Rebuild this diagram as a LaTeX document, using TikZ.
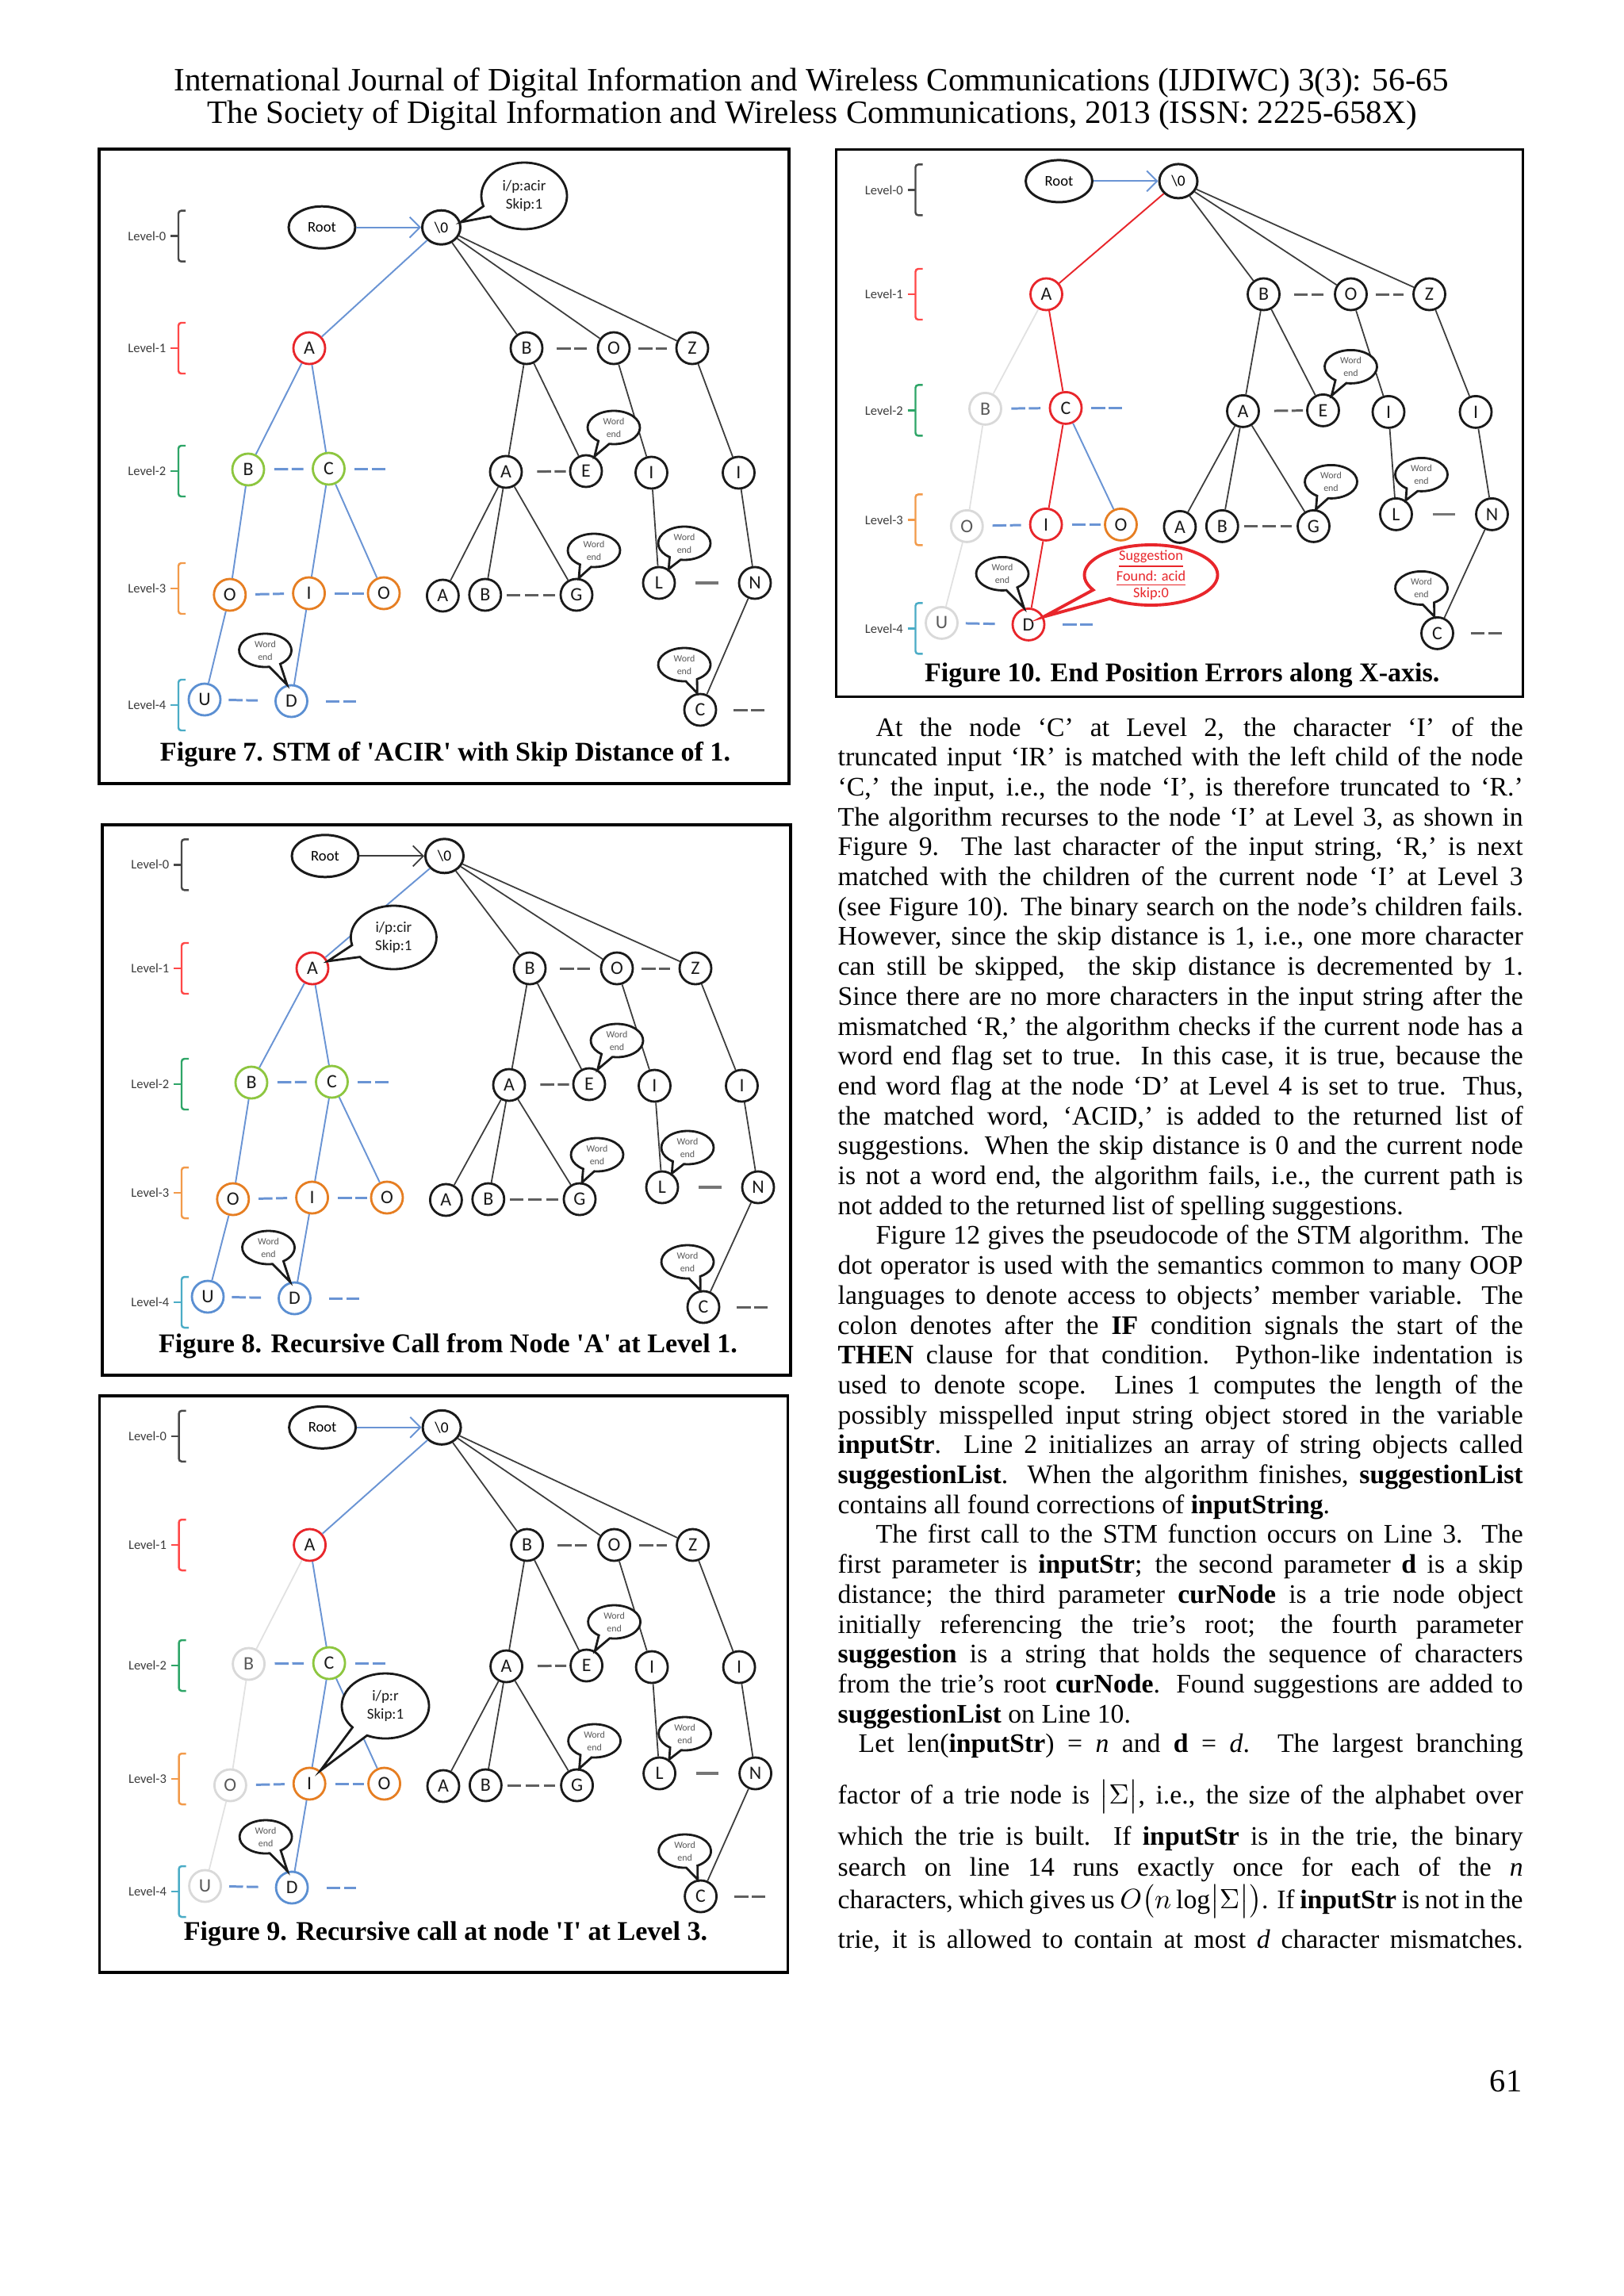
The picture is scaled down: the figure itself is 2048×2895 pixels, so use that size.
\documentclass[tikz,border=0pt]{standalone}
\usepackage{fontspec}
\setmainfont{Liberation Serif}
\newfontfamily\diafont{Carlito}
\usetikzlibrary{shapes.geometric,arrows.meta,calc}

\definecolor{cRed}{HTML}{E8262B}
\definecolor{cGreen}{HTML}{8DC63F}
\definecolor{cOrange}{HTML}{E67E22}
\definecolor{cBlue}{HTML}{5B8FD2}
\definecolor{cEdge}{HTML}{6A94D4}
\definecolor{cGhost}{HTML}{D9D9D9}
\definecolor{cGhostT}{HTML}{595959}
\definecolor{cLvA}{HTML}{FF4848}
\definecolor{cLvB}{HTML}{2EA567}
\definecolor{cLvC}{HTML}{F29A4A}
\definecolor{cLvD}{HTML}{4BACC6}
\definecolor{cDark}{HTML}{1A1A1A}

\tikzset{
 tn/.style={circle,draw=cDark,line width=0.8pt,minimum size=4mm,inner sep=0pt,fill=white,font=\diafont\fontsize{6.8}{7}\selectfont,text=cDark},
 rootn/.style={ellipse,draw=cDark,line width=0.85pt,minimum width=8.4mm,minimum height=5.3mm,inner sep=0pt,fill=white,font=\diafont\fontsize{5.3}{6}\selectfont},
 zn/.style={ellipse,draw=cDark,line width=0.85pt,minimum width=4.8mm,minimum height=4.3mm,inner sep=0pt,fill=white,font=\diafont\fontsize{5.5}{6}\selectfont},
 nred/.style={draw=cRed}, ngreen/.style={draw=cGreen}, norange/.style={draw=cOrange},
 nblue/.style={draw=cBlue}, nghost/.style={draw=cGhost,text=cGhostT},
 ed/.style={draw=cDark!85,line width=0.5pt},
 eb/.style={draw=cEdge,line width=0.55pt},
 er/.style={draw=cRed,line width=0.55pt},
 eg/.style={draw=cGhost!80,line width=0.5pt},
 sA1/.style={nred}, sB2/.style={ngreen}, sC2/.style={ngreen}, sO3/.style={norange},
 sI3/.style={norange}, sP3/.style={norange}, sU4/.style={nblue}, sD4/.style={nblue},
 eRZ/.style={eb}, e0A/.style={eb}, eAB/.style={eb}, eAC/.style={eb}, eBO/.style={eb},
 eCI/.style={eb}, eCP/.style={eb}, eOU/.style={eb}, eID/.style={eb},
 dk/.style={draw=cDark!70,line width=0.85pt,dash pattern=on 1.75mm off 0.45mm},
 db/.style={draw=cEdge,line width=0.85pt,dash pattern=on 1.75mm off 0.45mm},
 dkthree/.style={draw=cDark!70,line width=0.85pt,dash pattern=on 1.7mm off 0.6mm,shorten <=0.6mm,shorten >=0.6mm},
 solidgray/.style={draw=cDark!60,line width=0.9pt,shorten <=2.5mm,shorten >=2.5mm},
 co/.style={draw=cDark,line width=0.8pt,fill=white},
 cored/.style={draw=cRed,line width=1.1pt,fill=white},
 wetxt/.style={align=center,inner sep=0pt,font=\diafont\fontsize{3.4}{4.5}\selectfont,text=cGhostT},
 cotxt/.style={align=center,inner sep=0pt,font=\diafont\fontsize{5.4}{6.6}\selectfont,text=cDark},
 lvltxt/.style={anchor=east,inner sep=0pt,font=\diafont\fontsize{4.7}{5}\selectfont,text=cDark!85},
 brc/.style={line width=0.7pt,rounded corners=1pt},
 figframe/.style={draw=black,line width=0.9pt},
 capt/.style={inner sep=0pt,font=\bfseries\fontsize{9.7}{11}\selectfont},
 txt/.style={anchor=base west,inner sep=0pt,font=\fontsize{9.6}{11}\selectfont},
 hdr/.style={anchor=base,inner sep=0pt,font=\fontsize{11.7}{13}\selectfont},
}

% callout: style, centre, rx, ry, half gap, tip
\newcommand\callout[6]{%
 \path[#1] let \p1=(#6), \p2=(#2), \n1={atan2(-(\y1-\y2)/(#4),(\x1-\x2)/(#3))} in
 (#2) ++(\n1+#5:#3 and #4) arc[start angle=\n1+#5, end angle=\n1-#5+360, x radius=#3, y radius=#4] -- (#6) -- cycle;}

% word end callout: name, node, dx, dy, tip angle
\newcommand\wend[5]{%
 \coordinate (#1) at ($(#2)+(#3,#4)$);
 \callout{co}{#1}{33}{21}{13}{#2.#5}
 \node[wetxt] (#1t) at (#1) {Word\\end};}

\newcommand\wends[1]{%
 \wend{#1wE}{#1E2}{35}{-55}{60}
 \wend{#1wG}{#1G3}{22}{-56}{82}
 \wend{#1wL}{#1L3}{32}{-50}{55}
 \wend{#1wD}{#1D4}{-33}{-64}{105}
 \wend{#1wC}{#1C4}{-20}{-57}{100}}

% level label: name, y, colour, text
\newcommand\lvl[4]{%
 \node[lvltxt] (#1) at (85,#2) {#4};
 \draw[brc,draw=#3] (109,#2-32) -- (100,#2-32) -- (100,#2+32) -- (109,#2+32);
 \draw[line width=0.7pt,draw=#3] (90,#2) -- (100,#2);}

\newcommand\levels[6]{%
 \lvl{#1lv0}{#2+11}{cDark!80}{Level-0}
 \lvl{#1lv1}{#3}{cLvA}{Level-1}
 \lvl{#1lv2}{#4}{cLvB}{Level-2}
 \lvl{#1lv3}{#5-7}{cLvC}{Level-3}
 \lvl{#1lv4}{#6+6}{cLvD}{Level-4}}

% the trie: prefix, y of levels 0..4
\newcommand\trie[6]{%
 \node[rootn] (#1R) at (281,#2) {Root};
 \node[zn] (#1z) at (431.5,#2) {\textbackslash0};
 \node[tn,sA1] (#1A1) at (265,#3) {A};
 \node[tn] (#1B1) at (539,#3) {B};
 \node[tn] (#1O1) at (649,#3) {O};
 \node[tn] (#1Z1) at (748,#3) {Z};
 \node[tn,sB2] (#1B2) at (188,#4-2) {B};
 \node[tn,sC2] (#1C2) at (289.5,#4-3) {C};
 \node[tn] (#1A2) at (513,#4+1) {A};
 \node[tn] (#1E2) at (614,#4) {E};
 \node[tn] (#1Ia) at (696.5,#4+2) {I};
 \node[tn] (#1Ib) at (806.5,#4+2) {I};
 \node[tn,sO3] (#1O3) at (164.8,#5+1) {O};
 \node[tn,sI3] (#1I3) at (264.6,#5-1) {I};
 \node[tn,sP3] (#1P3) at (359,#5-1) {O};
 \node[tn] (#1A3) at (433.4,#5+2) {A};
 \node[tn] (#1B3) at (486.8,#5+1) {B};
 \node[tn] (#1G3) at (602,#5+1) {G};
 \node[tn] (#1L3) at (706,#5-14) {L};
 \node[tn] (#1N3) at (827,#5-14) {N};
 \node[tn,sU4] (#1U4) at (133,#6-1) {U};
 \node[tn,sD4] (#1D4) at (242.5,#6+1) {D};
 \node[tn] (#1C4) at (758,#6+12) {C};
 \coordinate (#1Ct) at ($(#1C2)+(71,0)$);
 \coordinate (#1Dt) at ($(#1D4)+(81,0)$);
 \coordinate (#1Ft) at ($(#1C4)+(81,0)$);
 \draw[eRZ,-{Straight Barb[length=1.3mm,width=2.6mm]}] (#1R) -- (#1z);
 \draw[e0A] (#1z) -- (#1A1);
 \draw[ed] (#1z) -- (#1B1);
 \draw[ed] (#1z) -- (#1O1);
 \draw[ed] (#1z) -- (#1Z1);
 \draw[eAB] (#1A1) -- (#1B2);
 \draw[eAC] (#1A1) -- (#1C2);
 \draw[eBO] (#1B2) -- (#1O3);
 \draw[eCI] (#1C2) -- (#1I3);
 \draw[eCP] (#1C2) -- (#1P3);
 \draw[eOU] (#1O3) -- (#1U4);
 \draw[eID] (#1I3) -- (#1D4);
 \draw[ed] (#1B1) -- (#1A2);
 \draw[ed] (#1B1) -- (#1E2);
 \draw[ed] (#1O1) -- (#1Ia);
 \draw[ed] (#1Z1) -- (#1Ib);
 \draw[ed] (#1A2) -- (#1A3);
 \draw[ed] (#1A2) -- (#1B3);
 \draw[ed] (#1A2) -- (#1G3);
 \draw[ed] (#1Ia) -- (#1L3);
 \draw[ed] (#1Ib) -- (#1N3);
 \draw[ed] (#1N3) -- (#1C4);
 \draw[dk,shorten <=1.7mm,shorten >=1.3mm] (#1B1) -- (#1O1);
 \draw[dk,shorten <=1.0mm,shorten >=1.1mm] (#1O1) -- (#1Z1);
 \draw[db,shorten <=1.15mm,shorten >=1.05mm] (#1B2) -- (#1C2);
 \draw[db,shorten <=1.1mm] (#1C2) -- (#1Ct);
 \draw[dk,shorten <=1.8mm,shorten >=0.4mm] (#1A2) -- (#1E2);
 \draw[db,shorten <=1.1mm,shorten >=1.0mm] (#1O3) -- (#1I3);
 \draw[db,shorten <=1.1mm,shorten >=0.4mm] (#1I3) -- (#1P3);
 \draw[dkthree] (#1B3) -- (#1G3);
 \draw[solidgray] (#1L3) -- (#1N3);
 \draw[db,shorten <=0.9mm,shorten >=2.1mm] (#1U4) -- (#1D4);
 \draw[db,shorten <=2.2mm] (#1D4) -- (#1Dt);
 \draw[dk,shorten <=2.1mm] (#1C4) -- (#1Ft);
 \levels{#1}{#2}{#3}{#4}{#5}{#6}
 \wends{#1}}

\newcommand\jl[3]{\node[txt] (#1) at (1056,#2) {\makebox[86.4mm][s]{#3}};}
\newcommand\ji[3]{\node[txt] (#1) at (1104,#2) {\makebox[81.6mm][s]{#3}};}
\newcommand\jn[3]{\node[txt] (#1) at (1056,#2) {#3};}

\begin{document}
\begin{tikzpicture}[x=0.1mm,y=-0.1mm]
\useasboundingbox[fill=white] (0,0) rectangle (2048,2895);

\node[hdr] (h1) at (1023,114) {International Journal of Digital Information and Wireless Communications (IJDIWC) 3(3): 56-65};
\node[hdr] (h2) at (1024,155) {The Society of Digital Information and Wireless Communications, 2013 (ISSN: 2225-658X)};

% ---------- Figure 7
\begin{scope}[shift={(125,188)}]
 \draw[figframe] (0,0) rectangle (870,800);
 \trie{fa}{98.7}{251}{406}{561}{695}
 \coordinate (facc) at (536,59);
 \callout{co}{facc}{54}{42}{10}{faz.15}
 \node[cotxt] (fact) at (facc) {i/p:acir\\Skip:1};
 \node[capt] (facap) at (436.5,763) {Figure 7. STM of \textquotesingle ACIR\textquotesingle\ with Skip Distance of 1.};
\end{scope}

% ---------- Figure 8
\begin{scope}[shift={(129,1040)}, eRZ/.style={ed}]
 \draw[figframe] (0,0) rectangle (868,694);
 \trie{fb}{39.3}{181}{327}{471}{596}
 \coordinate (fbcc) at (367.4,142);
 \callout{co}{fbcc}{54}{40}{12}{fbA1.25}
 \node[cotxt] (fbct) at (fbcc) {i/p:cir\\Skip:1};
 \node[capt] (fbcap) at (436,657) {Figure 8. Recursive Call from Node \textquotesingle A\textquotesingle\ at Level 1.};
\end{scope}

% ---------- Figure 9
\begin{scope}[shift={(125.6,1760)}, sB2/.style={nghost}, sO3/.style={nghost}, sU4/.style={nghost},
  eAB/.style={eg}, eBO/.style={eg}, eOU/.style={eg}]
 \draw[figframe] (0,0) rectangle (868,727);
 \trie{fc}{39.8}{188}{340}{490}{619}
 \coordinate (fccc) at (360.4,391);
 \callout{co}{fccc}{55}{41}{12}{fcI3.50}
 \node[cotxt] (fcct) at (fccc) {i/p:r\\Skip:1};
 \node[capt] (fccap) at (436.4,678) {Figure 9. Recursive call at node \textquotesingle I\textquotesingle\ at Level 3.};
\end{scope}

% ---------- Figure 10
\begin{scope}[shift={(1054.5,188.4)}, sB2/.style={nghost}, sO3/.style={nghost}, sU4/.style={nghost},
  eAB/.style={eg}, eBO/.style={eg}, eOU/.style={eg}, sC2/.style={nred}, sI3/.style={nred}, sD4/.style={nred},
  e0A/.style={er}, eAC/.style={er}, eCI/.style={er}, eID/.style={er}]
 \draw[figframe] (0,0) rectangle (866,690);
 \trie{fd}{40}{182.6}{329}{474}{598}
 \coordinate (fdcc) at (397,536.6);
 \callout{cored}{fdcc}{84}{38}{11}{fdD4.27}
 \node[cotxt,text=cRed,font=\diafont\fontsize{5.2}{6}\selectfont] (fdct) at (fdcc) {\underline{Suggestion}\\\underline{Found: acid}\\Skip:0};
 \node[capt] (fdcap) at (436.3,663) {Figure 10. End Position Errors along X-axis.};
\end{scope}

% ---------- text column
\ji{t1}{928.0}{At the node ‘C’ at Level 2, the character ‘I’ of the}
\jl{t2}{965.7}{truncated input ‘IR’ is matched with the left child of the node}
\jl{t3}{1003.4}{‘C,’ the input, i.e., the node ‘I’, is therefore truncated to ‘R.’}
\jl{t4}{1041.1}{The algorithm recurses to the node ‘I’ at Level 3, as shown in}
\jl{t5}{1078.8}{Figure 9. The last character of the input string, ‘R,’ is next}
\jl{t6}{1116.5}{matched with the children of the current node ‘I’ at Level 3}
\jl{t7}{1154.2}{(see Figure 10). The binary search on the node’s children fails.}
\jl{t8}{1191.9}{However, since the skip distance is 1, i.e., one more character}
\jl{t9}{1229.6}{can still be skipped,\ \ the skip distance is decremented by 1.}
\jl{t10}{1267.3}{Since there are no more characters in the input string after the}
\jl{t11}{1305.0}{mismatched ‘R,’ the algorithm checks if the current node has a}
\jl{t12}{1342.7}{word end flag set to true.\ \ In this case, it is true, because the}
\jl{t13}{1380.4}{end word flag at the node ‘D’ at Level 4 is set to true. Thus,}
\jl{t14}{1418.1}{the matched word, ‘ACID,’ is added to the returned list of}
\jl{t15}{1455.8}{suggestions. When the skip distance is 0 and the current node}
\jl{t16}{1493.5}{is not a word end, the algorithm fails, i.e., the current path is}
\jn{t17}{1531.2}{not added to the returned list of spelling suggestions.}
\ji{t18}{1568.9}{Figure 12 gives the pseudocode of the STM algorithm. The}
\jl{t19}{1606.6}{dot operator is used with the semantics common to many OOP}
\jl{t20}{1644.3}{languages to denote access to objects’ member variable. The}
\jl{t21}{1682.0}{colon denotes after the \textbf{IF} condition signals the start of the}
\jl{t22}{1719.7}{\textbf{THEN} clause for that condition. Python-like indentation is}
\jl{t23}{1757.4}{used to denote scope. Lines 1 computes the length of the}
\jl{t24}{1795.1}{possibly misspelled input string object stored in the variable}
\jl{t25}{1832.8}{\textbf{inputStr}. Line 2 initializes an array of string objects called}
\jl{t26}{1870.5}{\textbf{suggestionList}. When the algorithm finishes, \textbf{suggestionList}}
\jn{t27}{1908.2}{contains all found corrections of \textbf{inputString}.}
\ji{t28}{1945.9}{The first call to the STM function occurs on Line 3. The}
\jl{t29}{1983.6}{first parameter is \textbf{inputStr}; the second parameter \textbf{d} is a skip}
\jl{t30}{2021.3}{distance; the third parameter \textbf{curNode} is a trie node object}
\jl{t31}{2059.0}{initially referencing the trie’s root; the fourth parameter}
\jl{t32}{2096.7}{\textbf{suggestion} is a string that holds the sequence of characters}
\jl{t33}{2134.4}{from the trie’s root \textbf{curNode}. Found suggestions are added to}
\jn{t34}{2172.1}{\textbf{suggestionList} on Line 10.}
\node[txt] (t35) at (1082,2209.8) {\makebox[83.8mm][s]{Let len(\textbf{inputStr}) = \textit{n} and \textbf{d} = \textit{d}. The largest branching}};
\jl{t36}{2274}{factor of a trie node is $\bigl|\Sigma\bigr|$, i.e., the size of the alphabet over}
\jl{t37}{2326}{which the trie is built. If \textbf{inputStr} is in the trie, the binary}
\jl{t38}{2365}{search on line 14 runs exactly once for each of the \textit{n}}
\jl{t39}{2406}{characters, which gives us $O\bigl(n\log\bigl|\Sigma\bigr|\bigr)$. If \textbf{inputStr} is not in the}
\jl{t40}{2456}{trie, it is allowed to contain at most \textit{d} character mismatches.}

\node[anchor=base east,inner sep=0pt,font=\fontsize{11.5}{12}\selectfont] (pg) at (1920,2637) {61};
\end{tikzpicture}
\end{document}
